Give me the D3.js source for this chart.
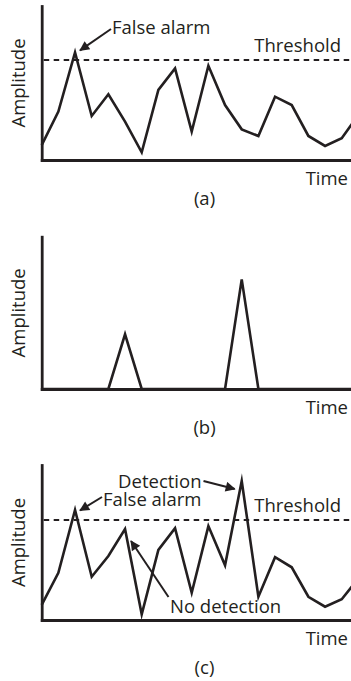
<!DOCTYPE html>
<html>
<head>
<meta charset="utf-8">
<script src="https://cdn.jsdelivr.net/npm/d3@7"></script>
<style>
  html, body { margin: 0; padding: 0; background: #fff; }
  svg { display: block; }
  text { font-family: "Open Sans", sans-serif; fill: #231f20; }
</style>
</head>
<body>
<svg id="chart" width="351" height="681"></svg>
<script>
// Sample index along the time axis
const samples = d3.range(20);

// (a) noise only
const noiseA = [9.7, 31.4, 69.9, 28.6, 42.7, 24.9, 5.0, 45.5, 59.5, 18.4,
                61.2, 35.7, 19.9, 15.6, 41.1, 35.7, 15.6, 9.1, 14.1, 29.4];
// (b) target returns only
const signalB = [0, 0, 0, 0, 0, 35.9, 0, 0, 0, 0,
                 0, 0, 72.0, 0, 0, 0, 0, 0, 0, 0];
// (c) signal plus noise
const combinedC = [9.7, 30.5, 71.0, 27.9, 41.3, 58.7, 3.7, 45.2, 59.2, 17.6,
                   60.6, 35.3, 89.7, 15.0, 40.5, 34.0, 15.0, 8.6, 13.4, 26.9];

const thresholdA = 64.9;
const thresholdC = 64.5;

const panelLabels = ["(a)", "(b)", "(c)"];
const axisLabelY = "Amplitude";
const axisLabelX = "Time";
const thresholdLabel = "Threshold";

const ink = "#231f20";
const svg = d3.select("#chart");

const x = d3.scaleLinear().domain([0, 19]).range([41.7, 358.4]);

// Arrow head
svg.append("defs").append("marker")
  .attr("id", "head")
  .attr("viewBox", "0 0 10 10")
  .attr("refX", 9).attr("refY", 5)
  .attr("markerUnits", "userSpaceOnUse")
  .attr("markerWidth", 12).attr("markerHeight", 10)
  .attr("orient", "auto")
  .append("path").attr("d", "M0,0 L10,5 L0,10 Z").attr("fill", ink);

const panels = [
  { values: noiseA, top: 6, bottom: 160, threshold: thresholdA, label: panelLabels[0], labelY: 205 },
  { values: signalB, top: 236.7, bottom: 389, threshold: null, label: panelLabels[1], labelY: 434 },
  { values: combinedC, top: 465, bottom: 620, threshold: thresholdC, label: panelLabels[2], labelY: 674 }
];

const fs = 18.5;

panels.forEach(p => {
  const y = d3.scaleLinear().domain([0, 100]).range([p.bottom, p.top]);
  p.y = y;
  const g = svg.append("g");

  // Threshold (dashed)
  if (p.threshold !== null) {
    g.append("line")
      .attr("x1", x(0) + 2).attr("x2", 351)
      .attr("y1", y(p.threshold)).attr("y2", y(p.threshold))
      .attr("stroke", ink).attr("stroke-width", 2)
      .attr("stroke-dasharray", "5.5 4.5");
    g.append("text")
      .attr("x", 341).attr("y", y(p.threshold) - 8)
      .attr("text-anchor", "end").attr("font-size", fs)
      .text(thresholdLabel);
  }

  // Amplitude trace
  g.append("path")
    .datum(samples)
    .attr("fill", "none").attr("stroke", ink)
    .attr("stroke-width", 2.6).attr("stroke-linejoin", "miter")
    .attr("stroke-miterlimit", 6)
    .attr("d", d3.line().x(i => x(i)).y(i => y(p.values[i])));

  // Axes (no ticks)
  const yAxis = g.append("g").attr("transform", `translate(${x(0)},0)`)
    .call(d3.axisLeft(y).tickValues([]).tickSizeOuter(0));
  const xAxis = g.append("g").attr("transform", `translate(0,${p.bottom})`)
    .call(d3.axisBottom(x).tickValues([]).tickSizeOuter(0));
  [yAxis, xAxis].forEach(a => a.select(".domain")
    .attr("stroke", ink).attr("stroke-width", 2.8).attr("stroke-linecap", "square"));

  // Axis titles
  g.append("text")
    .attr("transform", `translate(25,${(p.top + p.bottom) / 2}) rotate(-90)`)
    .attr("text-anchor", "middle").attr("font-size", fs)
    .text(axisLabelY);
  g.append("text")
    .attr("x", 348).attr("y", p.bottom + 25)
    .attr("text-anchor", "end").attr("font-size", fs)
    .text(axisLabelX);

  // Panel caption
  g.append("text")
    .attr("x", 204.5).attr("y", p.labelY)
    .attr("text-anchor", "middle").attr("font-size", fs)
    .text(p.label);
});

// Annotations
function arrow(x1, y1, x2, y2) {
  svg.append("line")
    .attr("x1", x1).attr("y1", y1).attr("x2", x2).attr("y2", y2)
    .attr("stroke", ink).attr("stroke-width", 2)
    .attr("marker-end", "url(#head)");
}
function note(txt, xx, yy, anchor) {
  svg.append("text").attr("x", xx).attr("y", yy)
    .attr("text-anchor", anchor).attr("font-size", fs).text(txt);
}

const pa = panels[0], pc = panels[2];

// (a) false alarm at the sample crossing the threshold
note("False alarm", 112, 34, "start");
arrow(111, 29, x(2) + 5, pa.y(noiseA[2]) - 2);

// (c)
note("Detection", 201.5, 488, "end");
arrow(203.5, 481, x(12) - 7, pc.y(combinedC[12]) + 8);
note("False alarm", 201.5, 505.5, "end");
arrow(102, 497, x(2) + 5, pc.y(combinedC[2]) + 0.5);
note("No detection", 170, 612.5, "start");
arrow(168.5, 597, x(5) + 6, pc.y(combinedC[5]) + 12);
</script>
</body>
</html>
